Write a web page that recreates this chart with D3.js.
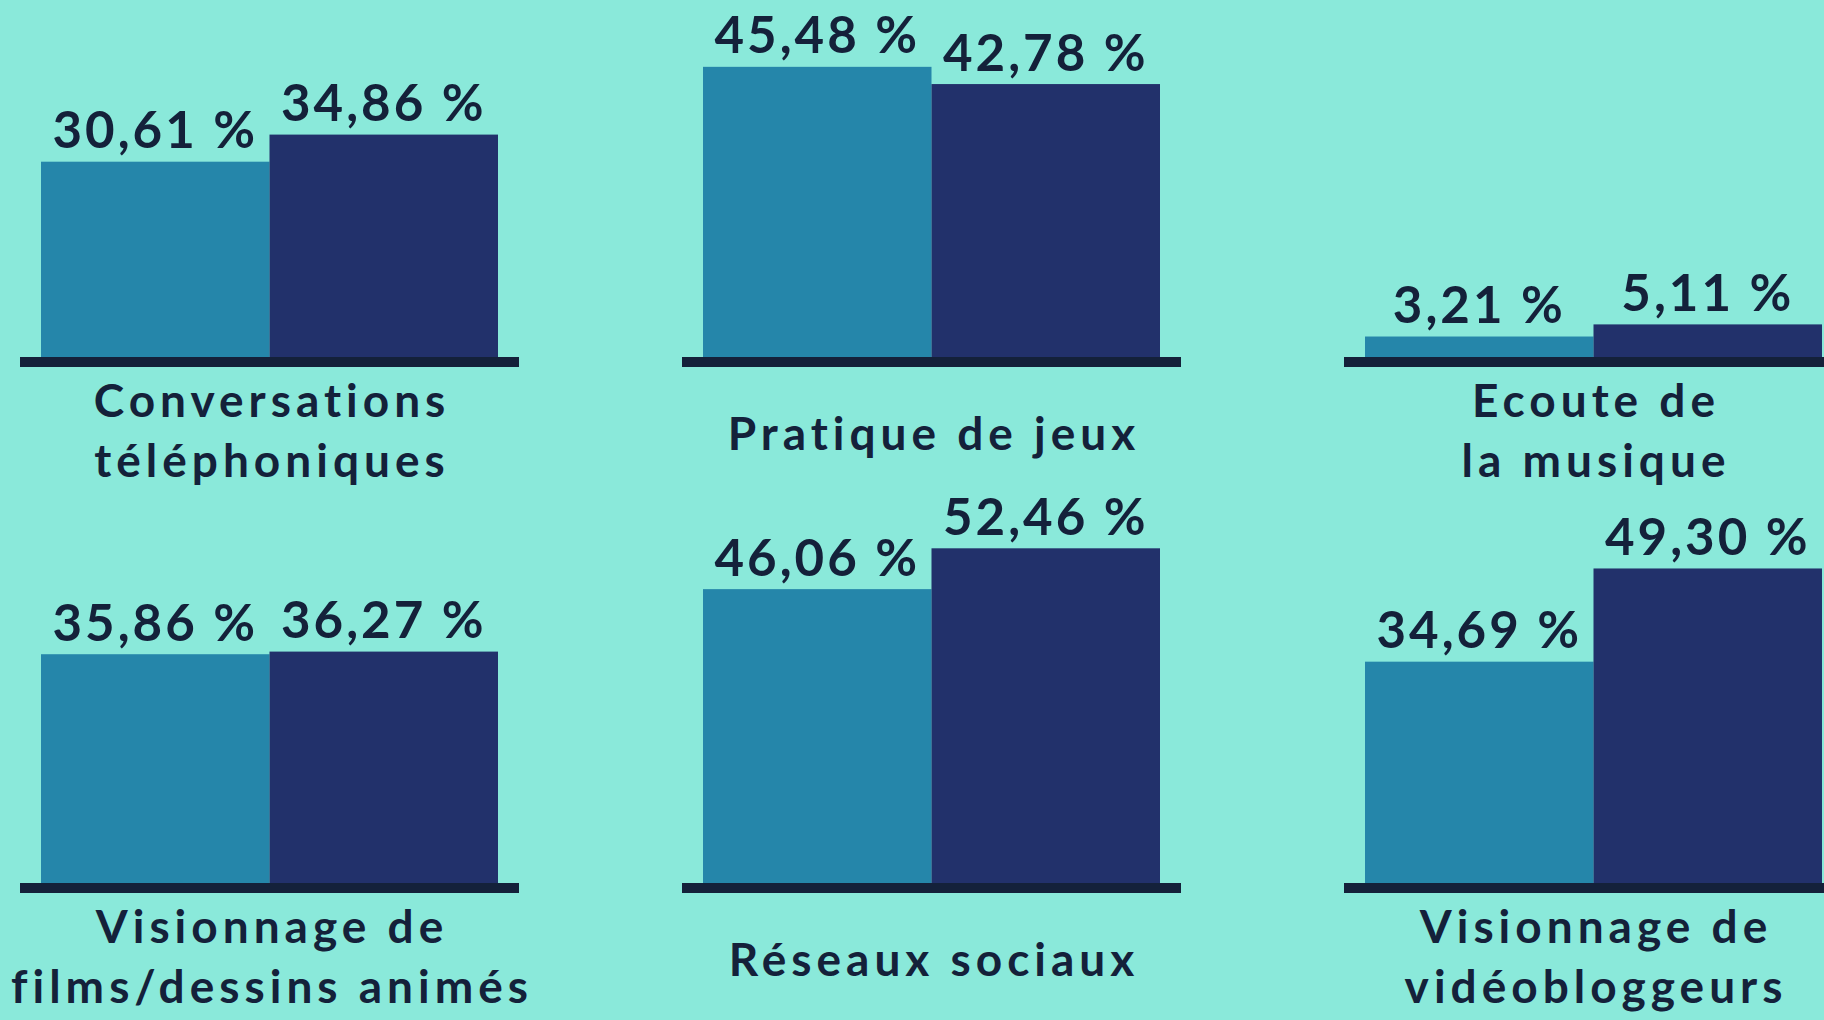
<!DOCTYPE html>
<html>
<head>
<meta charset="utf-8">
<script src="https://cdn.jsdelivr.net/npm/d3@7"></script>
<style>
  html, body { margin: 0; padding: 0; background: #8ae9da; }
  svg { display: block; }
  text { font-family: 'Lato', 'Open Sans', sans-serif; fill: #14213a; }
</style>
</head>
<body>
<div id="chart"></div>
<script>
// data
var categories = [
    ['Conversations', 'téléphoniques'],
    ['Pratique de jeux'],
    ['Ecoute de', 'la musique'],
    ['Visionnage de', 'films/dessins animés'],
    ['Réseaux sociaux'],
    ['Visionnage de', 'vidéobloggeurs']
];
var seriesA = [30.61, 45.48, 3.21, 35.86, 46.06, 34.69];
var seriesB = [34.86, 42.78, 5.11, 36.27, 52.46, 49.30];
var seriesColors = ['#2586aa', '#22316b'];

var W = 1824, H = 1020;

var fr = d3.formatLocale({decimal: ',', thousands: ' ', grouping: [3], currency: ['', ' €']}),
    fmt = function(v){ return fr.format('.2f')(v) + ' %'; };

var svg = d3.select('#chart').append('svg')
    .attr('width', W)
    .attr('height', H);

svg.append('rect').attr('width', W).attr('height', H).attr('fill', '#8ae9da');

// panel layout: 3 columns x 2 rows
var colX = d3.scaleLinear().domain([0, 2]).range([41, 1365]),
    rowBase = d3.scaleLinear().domain([0, 1]).range([357, 883]),
    barX = d3.scaleBand().domain([0, 1]).range([0, 457]).padding(0),
    y = d3.scaleLinear().domain([0, 50]).range([0, 319]);

var panels = categories.map(function(c, i){
    return {lines: c, values: [seriesA[i], seriesB[i]], col: i % 3, row: Math.floor(i / 3)};
});

var g = svg.selectAll('g.panel').data(panels).enter()
    .append('g')
    .attr('class', 'panel')
    .attr('transform', function(d){ return 'translate(' + colX(d.col) + ',' + rowBase(d.row) + ')'; });

// bars
g.selectAll('rect.bar').data(function(d){ return d.values; }).enter()
    .append('rect')
    .attr('class', 'bar')
    .attr('x', function(v, j){ return barX(j); })
    .attr('width', barX.bandwidth())
    .attr('y', function(v){ return -y(v); })
    .attr('height', function(v){ return y(v); })
    .attr('fill', function(v, j){ return seriesColors[j]; });

// base line
g.append('rect')
    .attr('x', -21)
    .attr('y', 0)
    .attr('width', 499)
    .attr('height', 10)
    .attr('fill', '#14213a');

// value labels
g.selectAll('text.val').data(function(d){ return d.values; }).enter()
    .append('text')
    .attr('class', 'val')
    .attr('text-anchor', 'middle')
    .attr('font-size', '51px')
    .attr('font-weight', 700)
    .attr('letter-spacing', '3px')
    .attr('x', function(v, j){ return barX(j) + barX.bandwidth() / 2; })
    .attr('y', function(v){ return -y(v) - 13.5; })
    .text(fmt);

// category labels
g.each(function(d){
    var n = d.lines.length,
        t = d3.select(this).append('text')
            .attr('text-anchor', 'middle')
            .attr('font-size', '46px')
            .attr('font-weight', 700)
            .attr('letter-spacing', '5px');
    d.lines.forEach(function(line, k){
        t.append('tspan')
            .attr('x', 457 / 2 + 2.5)
            .attr('y', 89.7 + (k - (n - 1) / 2) * 60 + (n === 1 ? 3 : 0))
            .text(line);
    });
});
</script>
</body>
</html>
